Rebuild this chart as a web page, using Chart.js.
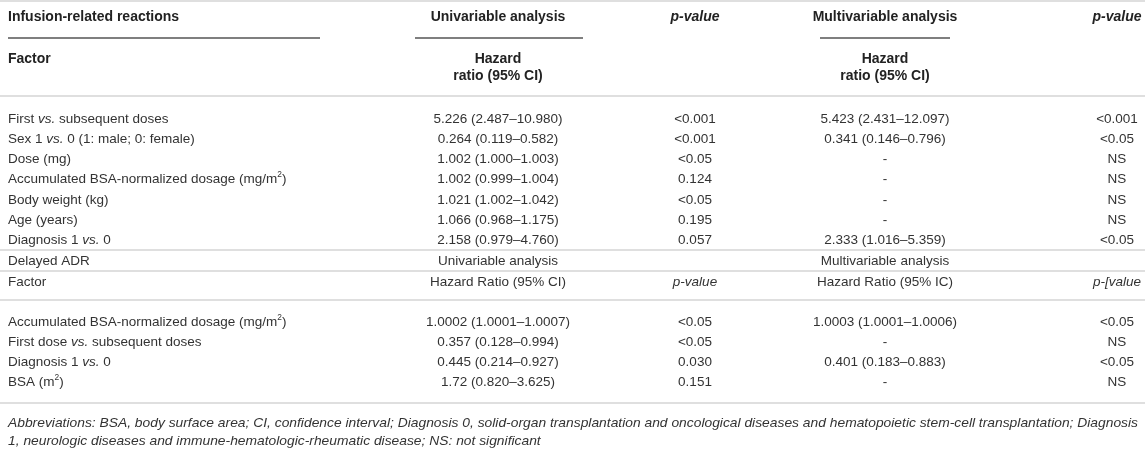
<!DOCTYPE html>
<html>
<head>
<meta charset="utf-8">
<script src="https://cdn.jsdelivr.net/npm/chart.js@4.4.1/dist/chart.umd.min.js"></script>
<style>
  html, body { margin: 0; padding: 0; background: #fff; }
  #wrap { width: 1145px; height: 466px; }
</style>
</head>
<body>
<div id="wrap"><canvas id="tableChart" width="1145" height="466"></canvas></div>
<script>
// *text* = italic, ^x = superscript
const irrFactors = [
  "First *vs.* subsequent doses",
  "Sex 1 *vs.* 0 (1: male; 0: female)",
  "Dose (mg)",
  "Accumulated BSA-normalized dosage (mg/m^2)",
  "Body weight (kg)",
  "Age (years)",
  "Diagnosis 1 *vs.* 0"
];
const irrUniHR = ["5.226 (2.487–10.980)", "0.264 (0.119–0.582)", "1.002 (1.000–1.003)", "1.002 (0.999–1.004)", "1.021 (1.002–1.042)", "1.066 (0.968–1.175)", "2.158 (0.979–4.760)"];
const irrUniP = ["<0.001", "<0.001", "<0.05", "0.124", "<0.05", "0.195", "0.057"];
const irrMultiHR = ["5.423 (2.431–12.097)", "0.341 (0.146–0.796)", "-", "-", "-", "-", "2.333 (1.016–5.359)"];
const irrMultiP = ["<0.001", "<0.05", "NS", "NS", "NS", "NS", "<0.05"];

const adrFactors = [
  "Accumulated BSA-normalized dosage (mg/m^2)",
  "First dose *vs.* subsequent doses",
  "Diagnosis 1 *vs.* 0",
  "BSA (m^2)"
];
const adrUniHR = ["1.0002 (1.0001–1.0007)", "0.357 (0.128–0.994)", "0.445 (0.214–0.927)", "1.72 (0.820–3.625)"];
const adrUniP = ["<0.05", "<0.05", "0.030", "0.151"];
const adrMultiHR = ["1.0003 (1.0001–1.0006)", "-", "0.401 (0.183–0.883)", "-"];
const adrMultiP = ["<0.05", "NS", "<0.05", "NS"];

const irrHeader = ["Infusion-related reactions", "Univariable analysis", "p-value", "Multivariable analysis", "p-value"];
const irrSubHeader = ["Factor", "Hazard", "ratio (95% CI)"];
const adrHeader = ["Delayed ADR", "Univariable analysis", "Multivariable analysis"];
const adrSubHeader = ["Factor", "Hazard Ratio (95% CI)", "p-value", "Hazard Ratio (95% IC)", "p-[value"];
const footnote = [
  "Abbreviations: BSA, body surface area; CI, confidence interval; Diagnosis 0, solid-organ transplantation and oncological diseases and hematopoietic stem-cell transplantation; Diagnosis",
  "1, neurologic diseases and immune-hematologic-rheumatic disease; NS: not significant"
];

// layout (in scale units, 1 unit = 1 px)
const col = { factor: 8, uniHR: 498, uniP: 695, multiHR: 885, multiP: 1117 };
const row = { head: 17, sub1: 59, sub2: 76, irrTop: 119, irrStep: 20.2, adr: 261, adrSub: 282, adrTop: 322, adrStep: 20, foot: 423, footStep: 18 };
const rules = [
  { y: 1, x0: 0, x1: 1145, c: "#d4d4d4", w: 1.5 },
  { y: 38, x0: 8, x1: 320, c: "#555", w: 1.5 },
  { y: 38, x0: 415, x1: 583, c: "#555", w: 1.5 },
  { y: 38, x0: 820, x1: 950, c: "#555", w: 1.5 },
  { y: 96, x0: 0, x1: 1145, c: "#d4d4d4", w: 1.5 },
  { y: 250, x0: 0, x1: 1145, c: "#d4d4d4", w: 1.5 },
  { y: 271, x0: 0, x1: 1145, c: "#d4d4d4", w: 1.5 },
  { y: 300, x0: 0, x1: 1145, c: "#d4d4d4", w: 1.5 },
  { y: 403, x0: 0, x1: 1145, c: "#d4d4d4", w: 1.5 }
];

const FAMILY = '"Liberation Sans", Arial, Helvetica, sans-serif';
const BODY = 13.5;

function segments(str) {
  const out = [];
  const re = /\*([^*]+)\*|\^(\S)/g;
  let last = 0, m;
  while ((m = re.exec(str))) {
    if (m.index > last) out.push({ t: str.slice(last, m.index) });
    if (m[1]) out.push({ t: m[1], it: true });
    else out.push({ t: m[2], sup: true });
    last = re.lastIndex;
  }
  if (last < str.length) out.push({ t: str.slice(last) });
  return out;
}

function fontFor(seg, o) {
  const size = seg.sup ? o.size * 0.62 : o.size;
  return (seg.it || o.italic ? "italic " : "") + (o.bold ? "bold " : "") + size + "px " + FAMILY;
}

function drawRich(ctx, str, x, y, o) {
  o = Object.assign({ size: BODY, align: "left", color: "#333" }, o);
  const segs = segments(str);
  let total = 0;
  segs.forEach(s => { ctx.font = fontFor(s, o); s.w = ctx.measureText(s.t).width; total += s.w; });
  let cx = o.align === "center" ? x - total / 2 : o.align === "right" ? x - total : x;
  ctx.fillStyle = o.color;
  ctx.textBaseline = "middle";
  ctx.textAlign = "left";
  segs.forEach(s => {
    ctx.font = fontFor(s, o);
    ctx.fillText(s.t, cx, s.sup ? y - o.size * 0.35 : y);
    cx += s.w;
  });
}

const tablePlugin = {
  id: "tablePlugin",
  afterDraw(chart) {
    const ctx = chart.ctx;
    const xs = chart.scales.x, ys = chart.scales.y;
    const X = v => xs.getPixelForValue(v);
    const Y = v => ys.getPixelForValue(v);
    ctx.save();

    rules.forEach(r => {
      ctx.strokeStyle = r.c;
      ctx.lineWidth = r.w;
      ctx.beginPath();
      ctx.moveTo(X(r.x0), Y(r.y));
      ctx.lineTo(X(r.x1), Y(r.y));
      ctx.stroke();
    });

    const hd = { bold: true, size: 14, color: "#222" };
    drawRich(ctx, irrHeader[0], X(col.factor), Y(row.head), hd);
    drawRich(ctx, irrHeader[1], X(col.uniHR), Y(row.head), Object.assign({}, hd, { align: "center" }));
    drawRich(ctx, irrHeader[2], X(col.uniP), Y(row.head), Object.assign({}, hd, { align: "center", italic: true }));
    drawRich(ctx, irrHeader[3], X(col.multiHR), Y(row.head), Object.assign({}, hd, { align: "center" }));
    drawRich(ctx, irrHeader[4], X(col.multiP), Y(row.head), Object.assign({}, hd, { align: "center", italic: true }));

    drawRich(ctx, irrSubHeader[0], X(col.factor), Y(row.sub1), hd);
    [col.uniHR, col.multiHR].forEach(cx => {
      drawRich(ctx, irrSubHeader[1], X(cx), Y(row.sub1), Object.assign({}, hd, { align: "center" }));
      drawRich(ctx, irrSubHeader[2], X(cx), Y(row.sub2), Object.assign({}, hd, { align: "center" }));
    });

    irrFactors.forEach((f, i) => {
      const y = Y(row.irrTop + i * row.irrStep);
      drawRich(ctx, f, X(col.factor), y);
      drawRich(ctx, irrUniHR[i], X(col.uniHR), y, { align: "center" });
      drawRich(ctx, irrUniP[i], X(col.uniP), y, { align: "center" });
      drawRich(ctx, irrMultiHR[i], X(col.multiHR), y, { align: "center" });
      drawRich(ctx, irrMultiP[i], X(col.multiP), y, { align: "center" });
    });

    drawRich(ctx, adrHeader[0], X(col.factor), Y(row.adr));
    drawRich(ctx, adrHeader[1], X(col.uniHR), Y(row.adr), { align: "center" });
    drawRich(ctx, adrHeader[2], X(col.multiHR), Y(row.adr), { align: "center" });

    drawRich(ctx, adrSubHeader[0], X(col.factor), Y(row.adrSub));
    drawRich(ctx, adrSubHeader[1], X(col.uniHR), Y(row.adrSub), { align: "center" });
    drawRich(ctx, adrSubHeader[2], X(col.uniP), Y(row.adrSub), { align: "center", italic: true });
    drawRich(ctx, adrSubHeader[3], X(col.multiHR), Y(row.adrSub), { align: "center" });
    drawRich(ctx, adrSubHeader[4], X(col.multiP), Y(row.adrSub), { align: "center", italic: true });

    adrFactors.forEach((f, i) => {
      const y = Y(row.adrTop + i * row.adrStep);
      drawRich(ctx, f, X(col.factor), y);
      drawRich(ctx, adrUniHR[i], X(col.uniHR), y, { align: "center" });
      drawRich(ctx, adrUniP[i], X(col.uniP), y, { align: "center" });
      drawRich(ctx, adrMultiHR[i], X(col.multiHR), y, { align: "center" });
      drawRich(ctx, adrMultiP[i], X(col.multiP), y, { align: "center" });
    });

    // footnote: tall, condensed italic stretched across the table width
    ctx.font = "italic 13.5px " + FAMILY;
    const fit = (X(1138) - X(col.factor)) / ctx.measureText(footnote[0]).width;
    ctx.fillStyle = "#333";
    ctx.textBaseline = "middle";
    footnote.forEach((line, i) => {
      ctx.save();
      ctx.translate(X(col.factor), Y(row.foot + i * row.footStep));
      ctx.scale(fit, 1);
      ctx.fillText(line, 0, 0);
      ctx.restore();
    });

    ctx.restore();
  }
};

new Chart(document.getElementById("tableChart"), {
  type: "scatter",
  data: { datasets: [] },
  options: {
    responsive: false,
    animation: false,
    layout: { padding: 0 },
    plugins: { legend: { display: false }, tooltip: { enabled: false } },
    scales: {
      x: { type: "linear", min: 0, max: 1145, display: false },
      y: { type: "linear", min: 0, max: 466, reverse: true, display: false }
    }
  },
  plugins: [tablePlugin]
});
</script>
</body>
</html>
